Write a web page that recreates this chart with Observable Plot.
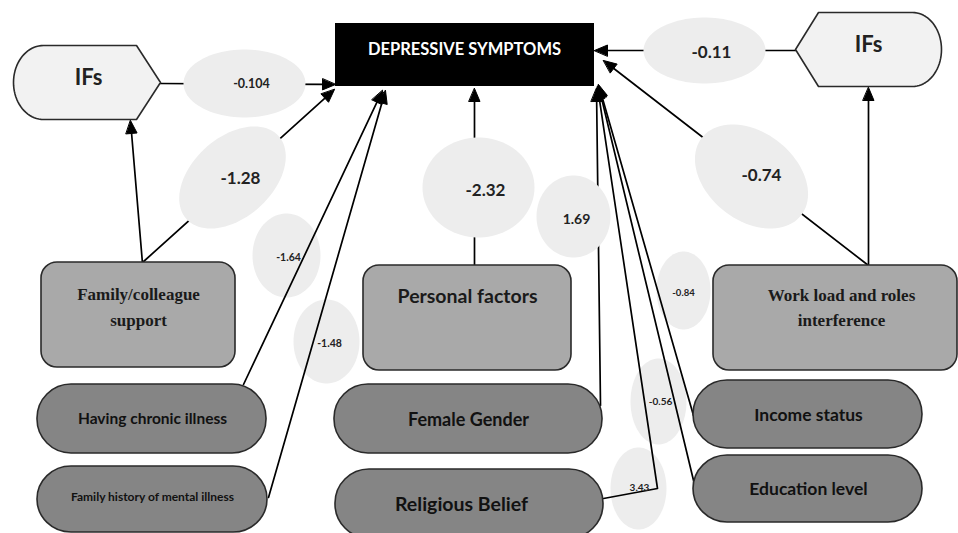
<!DOCTYPE html>
<html><head><meta charset="utf-8">
<script src="https://cdn.jsdelivr.net/npm/d3@7"></script>
<script src="https://cdn.jsdelivr.net/npm/@observablehq/plot@0.6"></script>
<style>html,body{margin:0;padding:0;background:#fff;overflow:hidden}</style>
</head><body><div id="chart"></div>
<script>
// ---------- data ----------
const outcome = "DEPRESSIVE SYMPTOMS";
const mediator = "IFs";
const factorGroups = ["Family/colleague\nsupport", "Personal factors", "Work load and roles\ninterference"];
const personalFactors = ["Having chronic illness", "Family history of mental illness", "Female Gender", "Religious Belief", "Income status", "Education level"];
const coefficients = ["-0.104", "-1.28", "-1.64", "-1.48", "-2.32", "1.69", "-0.11", "-0.74", "-0.84", "-0.56", "3.43"];

// ---------- layout (diagram geometry) ----------
const coefLayout = [
  {cx:244, cy:83,  rx:61, ry:34, rot:0,   tx:251, ty:83,  fs:12.5, front:true},
  {cx:232, cy:177, rx:62, ry:40, rot:-42, tx:240, ty:178, fs:17,   front:true},
  {cx:286, cy:255, rx:34, ry:42, rot:0,   tx:288, ty:257, fs:10.5, front:false},
  {cx:326, cy:341, rx:33, ry:42, rot:0,   tx:329, ty:343, fs:10.5, front:false},
  {cx:478, cy:187, rx:56, ry:50, rot:0,   tx:485, ty:190, fs:17,   front:true},
  {cx:573, cy:216, rx:37, ry:41, rot:0,   tx:576, ty:219, fs:14,   front:true},
  {cx:704, cy:50,  rx:61, ry:33, rot:0,   tx:711, ty:52,  fs:17,   front:true},
  {cx:751, cy:176, rx:63, ry:44, rot:38,  tx:761, ty:175, fs:17,   front:true},
  {cx:683, cy:290, rx:27, ry:39, rot:0,   tx:683, ty:292, fs:9.5,  front:false},
  {cx:658, cy:401, rx:28, ry:43, rot:0,   tx:660, ty:401, fs:10,   front:false},
  {cx:638, cy:488, rx:28, ry:41, rot:0,   tx:639, ty:487, fs:10,   front:false}
];
const groupLayout = [
  {x1:41,  x2:235, y1:262, y2:367, tx:138, ty:304, fs:17, family:"Liberation Serif, serif", lh:1.55},
  {x1:363, x2:571, y1:265, y2:370, tx:467, ty:296, fs:19.5, family:"Lato, sans-serif", lh:1},
  {x1:713, x2:957, y1:265, y2:370, tx:841, ty:305, fs:17, family:"Liberation Serif, serif", lh:1.45}
];
const factorLayout = [
  {x1:37,  x2:266, y1:384, y2:453, tx:152, ty:419, fs:15.5},
  {x1:37,  x2:267, y1:466, y2:532, tx:152, ty:497, fs:12},
  {x1:334, x2:602, y1:384, y2:453, tx:468, ty:420, fs:18},
  {x1:335, x2:603, y1:469, y2:538, tx:461, ty:504, fs:19.5},
  {x1:693, x2:922, y1:380, y2:448, tx:808, ty:415, fs:17.5},
  {x1:693, x2:922, y1:455, y2:522, tx:808, ty:489, fs:17.5}
];
const outcomeLayout = {x1:335, x2:594, y1:23, y2:86, tx:464, ty:49, fs:16.5};
// IFs shapes
const mediatorLayout = [
  {xa:136, tip:160, top:45, bot:119, acx:43,  arx:30, dir:1,  tx:88,  ty:77},
  {xa:818, tip:795, top:12, bot:86,  acx:912, arx:29, dir:-1, tx:868, ty:44}
];
// edges as polylines; arrowhead at the final point
const edges = [
  {pts:[[160,83],[335,84]]},
  {pts:[[142,262],[334,89]]},
  {pts:[[142,263],[130,120]]},
  {pts:[[243,384],[382,90]]},
  {pts:[[268,497],[385,90]]},
  {pts:[[474,265],[474,88]]},
  {pts:[[600,405],[596,88]]},
  {pts:[[603,498],[657,488],[597,86]]},
  {pts:[[693,415],[598,84]]},
  {pts:[[694,484],[598,85]]},
  {pts:[[868,265],[603,60]]},
  {pts:[[868,265],[868,87]]},
  {pts:[[795,50],[594,50]]}
];

// ---------- derived geometry ----------
function ellipsePts(e, id) {
  const a = e.rot * Math.PI / 180, out = [];
  for (let i = 0; i < 90; i++) {
    const t = i / 90 * 2 * Math.PI;
    const px = e.rx * Math.cos(t), py = e.ry * Math.sin(t);
    out.push({id, x: e.cx + px * Math.cos(a) - py * Math.sin(a), y: e.cy + px * Math.sin(a) + py * Math.cos(a)});
  }
  return out;
}
const backEll = [], frontEll = [];
coefLayout.forEach((e, i) => (e.front ? frontEll : backEll).push(...ellipsePts(e, i)));

const mediatorPts = [];
mediatorLayout.forEach((m, i) => {
  const cy = (m.top + m.bot) / 2, ry = (m.bot - m.top) / 2;
  mediatorPts.push({id:i, x:m.xa, y:m.top}, {id:i, x:m.tip, y:cy}, {id:i, x:m.xa, y:m.bot}, {id:i, x:m.acx, y:m.bot});
  for (let k = 1; k < 40; k++) {
    const t = Math.PI / 2 + k / 40 * Math.PI;
    mediatorPts.push({id:i, x: m.acx + m.dir * m.arx * Math.cos(t), y: cy + ry * Math.sin(t)});
  }
  mediatorPts.push({id:i, x:m.acx, y:m.top});
});

const edgePts = [], heads = [];
edges.forEach((e, i) => {
  const p = e.pts, p1 = p[p.length - 1], p0 = p[p.length - 2];
  const dx = p1[0] - p0[0], dy = p1[1] - p0[1], L = Math.hypot(dx, dy), ux = dx / L, uy = dy / L;
  const len = 13, w = 5.5;
  const bx = p1[0] - ux * len, by = p1[1] - uy * len;
  p.forEach((q, k) => edgePts.push({id:i, x: k === p.length - 1 ? bx + ux * 2 : q[0], y: k === p.length - 1 ? by + uy * 2 : q[1]}));
  heads.push({id:i, x:p1[0], y:p1[1]}, {id:i, x:bx - uy * w, y:by + ux * w}, {id:i, x:bx + uy * w, y:by - ux * w});
});

const coefText = coefficients.map((c, i) => ({label:c, ...coefLayout[i]}));
const groupText = factorGroups.map((g, i) => ({label:g, ...groupLayout[i]}));
const factorText = personalFactors.map((f, i) => ({label:f, ...factorLayout[i]}));

const sans = "Lato, 'Open Sans', sans-serif";
const textMarks = [];
coefText.forEach(d => textMarks.push(Plot.text([d], {x:"tx", y:"ty", text:"label", fontSize:d.fs, fontWeight:"bold", fontFamily:sans, fill:"#222"})));
groupText.forEach(d => textMarks.push(Plot.text([d], {x:"tx", y:"ty", text:"label", fontSize:d.fs, fontWeight:"bold", fontFamily:d.family, lineHeight:d.lh, fill:"#1a1a1a"})));
factorText.forEach(d => textMarks.push(Plot.text([d], {x:"tx", y:"ty", text:"label", fontSize:d.fs, fontWeight:"bold", fontFamily:sans, fill:"#111"})));

const chart = Plot.plot({
  width: 958, height: 533, margin: 0,
  x: {domain: [0, 958], axis: null},
  y: {domain: [0, 533], range: [0, 533], axis: null},
  style: {background: "#fff"},
  marks: [
    Plot.line(backEll, {x:"x", y:"y", z:"id", fill:"#ededed", stroke:"none", curve:"linear-closed"}),
    Plot.line(edgePts, {x:"x", y:"y", z:"id", stroke:"#000", strokeWidth:1.7, curve:"linear"}),
    Plot.line(heads, {x:"x", y:"y", z:"id", fill:"#000", stroke:"#000", strokeWidth:1, curve:"linear-closed"}),
    Plot.line(frontEll, {x:"x", y:"y", z:"id", fill:"#ededed", stroke:"none", curve:"linear-closed"}),
    Plot.rect(groupLayout, {x1:"x1", x2:"x2", y1:"y1", y2:"y2", rx:16, fill:"#a9a9a9", stroke:"#2a2a2a", strokeWidth:1.6}),
    Plot.rect(factorLayout, {x1:"x1", x2:"x2", y1:"y1", y2:"y2", rx:34, fill:"#858585", stroke:"#2a2a2a", strokeWidth:1.6}),
    Plot.line(mediatorPts, {x:"x", y:"y", z:"id", fill:"#f2f2f2", stroke:"#2a2a2a", strokeWidth:1.6, curve:"linear-closed"}),
    Plot.rect([outcomeLayout], {x1:"x1", x2:"x2", y1:"y1", y2:"y2", fill:"#000"}),
    Plot.text([outcomeLayout], {x:"tx", y:"ty", text:() => outcome, fontSize:outcomeLayout.fs, fontWeight:"bold", fontFamily:sans, fill:"#fff"}),
    Plot.text(mediatorLayout, {x:"tx", y:"ty", text:() => mediator, fontSize:22, fontWeight:"bold", fontFamily:sans, fill:"#222"}),
    ...textMarks
  ]
});
document.getElementById("chart").appendChild(chart);
</script>
</body></html>
